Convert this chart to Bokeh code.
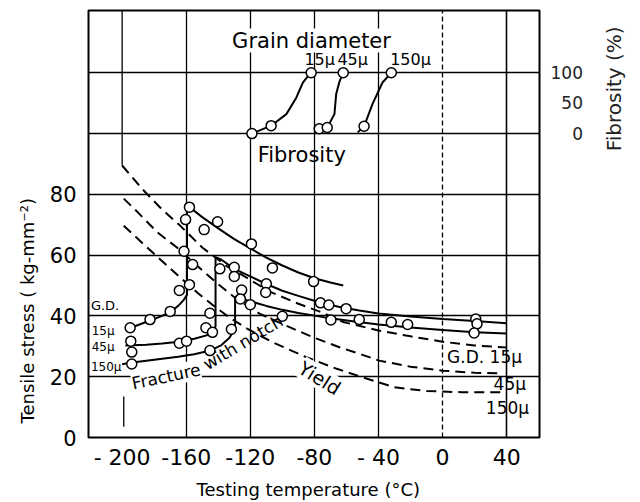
import math
from bokeh.plotting import figure
from bokeh.models import Range1d, LinearAxis, FixedTicker, Label, Grid
from bokeh.embed import file_html
from bokeh.resources import INLINE

FONT = "DejaVu Sans"

# ---------------- data ----------------
# Fibrosity (%) versus testing temperature (deg C), measured points
fib15_t = [-119, -107, -82]
fib15_f = [0, 13, 100]
fib45_t = [-77, -72, -62]
fib45_f = [8, 10, 100]
fib150_t = [-49, -32]
fib150_f = [12, 100]
# fibrosity curves drawn through the points
fib15_line_t = [-119, -107, -97.5, -91.3, -87.2, -82.4]
fib15_line_f = [0, 13, 32, 59, 84, 100]
fib45_line_t = [-79, -72, -67.5, -66.4, -64.3, -62]
fib45_line_f = [3, 10, 32, 65, 86, 100]
fib150_line_t = [-53, -49, -43.7, -37.5, -32]
fib150_line_f = [2, 12, 49, 84, 100]

# Fracture stress with notch (kg/mm^2), measured points
gd15_t = [-195, -182.6, -170, -164.3, -158, -161.4, -160.4, -158, -148.8, -140.4, -119.3, -106.2, -80.5]
gd15_s = [36.1, 38.8, 41.5, 48.4, 50.3, 61.3, 71.7, 75.8, 68.4, 71.0, 63.7, 55.8, 51.3]
gd45_t = [-194.6, -164.3, -159.8, -147.7, -143.6, -145.2, -156, -139, -130, -130, -110, -110.4, -76.2, -71, -60.2, 20.7, 21.5]
gd45_s = [31.7, 31.0, 31.7, 36.1, 34.6, 40.9, 56.9, 55.5, 56.0, 53.0, 50.6, 47.7, 44.3, 43.6, 42.4, 39.0, 37.4]
gd150_t = [-194, -194, -145.2, -131.8, -125.4, -126.2, -120, -100, -69.7, -52, -32, -21.8, 19.7]
gd150_s = [28.1, 24.2, 28.6, 35.6, 48.5, 45.6, 43.7, 39.9, 38.7, 38.8, 37.9, 37.2, 34.4]

# Fracture curves (solid)
gd15_line_t = [-198, -190, -182.6, -175, -170, -165, -161.5, -159.5, -159.5, -158, -150, -140, -130, -120, -110, -100, -90, -80, -70, -62]
gd15_line_s = [35.6, 37.0, 38.5, 40.0, 41.3, 43.3, 45.3, 47.0, 74.5, 75.8, 72.5, 68.8, 65.3, 62.2, 59.2, 56.6, 54.3, 52.4, 51.0, 50.0]
gd45_line_t = [-198, -185, -175, -166, -155, -147.3, -143.5, -141.7, -141.7, -138, -130, -120, -110, -100, -90, -77, -65, -52, -40, -20, 0, 20, 40]
gd45_line_s = [30.3, 30.5, 30.9, 31.4, 32.5, 33.6, 35.0, 36.5, 59.3, 58.5, 55.5, 53.0, 50.5, 48.3, 46.6, 44.5, 43.0, 41.8, 40.8, 39.8, 39.0, 38.3, 37.6]
gd150_line_t = [-200, -195, -180, -165, -155, -145, -138, -133, -130.5, -129.5, -129.5, -125, -120, -110, -100, -90, -80, -70, -55, -40, -20, 0, 20, 40]
gd150_line_s = [24.1, 24.6, 25.6, 26.6, 27.4, 28.6, 30.4, 32.8, 35.0, 37.0, 46.3, 45.7, 44.8, 43.3, 42.0, 41.0, 40.1, 39.2, 38.2, 37.2, 36.2, 35.4, 34.6, 34.2]

# Yield stress curves (dashed)
yield15_t = [-200, -187, -175, -164, -150, -135, -122, -108, -90, -77, -62, -40, -20, 0, 20, 40]
yield15_s = [89.5, 81.5, 75.0, 69.8, 62.5, 56.5, 52.5, 48.0, 44.0, 41.5, 38.0, 35.2, 33.3, 31.5, 30.3, 29.6]
yield45_t = [-199, -191, -178, -166, -150, -139, -128.6, -114, -95.5, -80, -64.4, -50, -39.5, -20, 0, 20, 35]
yield45_s = [78.6, 74.5, 67.5, 62.6, 55.0, 50.0, 45.6, 40.7, 36.3, 32.8, 29.7, 27.2, 25.3, 23.3, 22.0, 21.3, 21.1]
yield150_t = [-199, -187, -176, -164, -153, -142, -133, -122, -106, -85, -66, -50, -30, -10, 12, 40]
yield150_s = [69.7, 63.8, 58.5, 52.8, 47.6, 43.0, 39.5, 35.8, 31.3, 26.4, 22.6, 19.8, 16.5, 15.3, 14.9, 14.9]

# Tick values and labels
stress_ticks = [0, 20, 40, 60, 80]
temp_ticks = [-200, -160, -120, -80, -40, 0, 40]
temp_tick_labels = ["- 200", "-160", "-120", "-80", "- 40", "0", "40"]
fib_ticks = [0, 50, 100]
fib_tick_labels = ["\u2007\u20070", "\u200750", "100"]
vgrid_solid = [-160, -120, -80, -40]
vgrid_dashed = [0]
vgrid_right = [40]
hgrid = [20, 40, 60, 80, 100, 120]
# -200 deg C reference line pieces
ref200_top_t = [-200, -200]
ref200_top_s = [89.5, 140.5]
ref200_low_t = [-199, -199]
ref200_low_s = [3.5, 13.5]

# ---------------- figure ----------------
p = figure(width=640, height=502, x_range=Range1d(-221, 60.5), y_range=Range1d(0, 140.5),
           output_backend="svg", toolbar_location=None,
           min_border_left=88, min_border_right=100, min_border_top=10, min_border_bottom=65)
p.title.visible = False
p.background_fill_color = "white"
p.border_fill_color = "white"
p.outline_line_color = "black"
p.outline_line_width = 2

# fibrosity scale: 0 % at stress 100, 100 % at stress 120
p.extra_y_ranges = {"fib": Range1d(-500, 202.5)}

def style_axis(ax, size):
    ax.axis_line_color = None
    ax.major_tick_line_color = None
    ax.minor_tick_line_color = None
    ax.major_label_text_font = FONT
    ax.major_label_text_font_size = size
    ax.major_label_text_color = "black"
    ax.axis_label_text_font = FONT
    ax.axis_label_text_font_style = "normal"
    ax.axis_label_text_color = "black"

EM = "\u2003"

yax = p.yaxis[0]
style_axis(yax, "21px")
yax.ticker = FixedTicker(ticks=stress_ticks)
yax.major_label_standoff = 6
yax.axis_label = "Tensile  stress  ( kg-mm\u207b\u00b2)" + EM * 9
yax.axis_label_text_font_size = "18px"
yax.axis_label_standoff = 9

xax = p.xaxis[0]
style_axis(xax, "22px")
xax.ticker = FixedTicker(ticks=temp_ticks)
xax.major_label_overrides = {t: s for t, s in zip(temp_ticks, temp_tick_labels)}
xax.major_label_standoff = 1
xax.axis_label = "Testing  temperature  (\u00b0C)"
xax.axis_label_text_font_size = "18px"
xax.axis_label_standoff = 6

rax = LinearAxis(y_range_name="fib", ticker=FixedTicker(ticks=fib_ticks))
style_axis(rax, "17px")
rax.major_label_text_color = "#222222"
rax.major_label_overrides = {t: s for t, s in zip(fib_ticks, fib_tick_labels)}
rax.major_label_standoff = 5
rax.axis_label = EM * 3 + "\u2007" + "Fibrosity  (%)"
rax.axis_label_text_font_size = "20px"
rax.axis_label_text_color = "#222222"
rax.axis_label_standoff = 28
rax.axis_label_orientation = math.pi / 2
p.add_layout(rax, "right")

GRID = dict(grid_line_color="black", grid_line_width=1.3, grid_line_alpha=1.0)
p.xgrid.ticker = FixedTicker(ticks=vgrid_solid)
p.ygrid.ticker = FixedTicker(ticks=hgrid)
for g in (p.xgrid[0], p.ygrid[0]):
    g.update(**GRID)
p.add_layout(Grid(dimension=0, ticker=FixedTicker(ticks=vgrid_dashed), grid_line_dash="5 3", **GRID))
# the +40 deg line is interrupted by the right-hand labels
p.add_layout(Grid(dimension=0, ticker=FixedTicker(ticks=vgrid_right), bounds=(29.6, 140.5), **GRID))
p.add_layout(Grid(dimension=0, ticker=FixedTicker(ticks=vgrid_right), bounds=(0, 6.5), **GRID))

p.line(ref200_top_t, ref200_top_s, line_color="black", line_width=1.3)
p.line(ref200_low_t, ref200_low_s, line_color="black", line_width=1.3)

# yield curves
for t, s in ((yield15_t, yield15_s), (yield45_t, yield45_s), (yield150_t, yield150_s)):
    p.line(t, s, line_color="black", line_width=2, line_dash="10 6")

# fracture curves
for t, s in ((gd15_line_t, gd15_line_s), (gd45_line_t, gd45_line_s), (gd150_line_t, gd150_line_s)):
    p.line(t, s, line_color="black", line_width=2)

# fibrosity curves
for t, f in ((fib15_line_t, fib15_line_f), (fib45_line_t, fib45_line_f), (fib150_line_t, fib150_line_f)):
    p.line(t, f, line_color="black", line_width=2, y_range_name="fib")

# markers
for t, s in ((gd15_t, gd15_s), (gd45_t, gd45_s), (gd150_t, gd150_s)):
    p.scatter(t, s, size=10, marker="circle", fill_color="white", line_color="black", line_width=1.5)
for t, f in ((fib15_t, fib15_f), (fib45_t, fib45_f), (fib150_t, fib150_f)):
    p.scatter(t, f, size=10, marker="circle", fill_color="white", line_color="black", line_width=1.5,
              y_range_name="fib")

def lab(x, y, text, size, angle=0.0, align="center", bg=None, color="black"):
    kw = {}
    if bg:
        kw = dict(background_fill_color=bg, background_fill_alpha=1.0)
    p.add_layout(Label(x=x, y=y, text=text, text_font=FONT, text_font_size=size,
                       text_align=align, text_baseline="middle", angle=angle,
                       text_color=color, **kw))

lab(-81.8, 130.6, "Grain diameter", "21px", bg="white")
lab(-76.7, 124.4, "15\u03bc", "16px")
lab(-56.1, 124.4, "45\u03bc", "16px")
lab(-20.0, 124.4, "150\u03bc", "16px")
lab(-87.9, 93.1, "Fibrosity", "21px")

lab(-219.5, 43.4, "G.D.", "13px", align="left")
lab(-219.0, 35.2, "15\u03bc", "12px", align="left")
lab(-219.0, 29.7, "45\u03bc", "12px", align="left")
lab(-219.5, 23.1, "150\u03bc", "12px", align="left")

lab(49.6, 26.4, "G.D. 15\u03bc", "17px", align="right")
lab(52.1, 17.6, "45\u03bc", "17px", align="right")
lab(54.0, 9.8, "150\u03bc", "17px", align="right")

lab(-172.5, 20.1, "Fracture", "17px", angle=math.radians(12), bg="white")
lab(-124.6, 31.3, "with notch", "17px", angle=math.radians(31))
lab(-76.7, 19.6, "Yield", "19px", angle=math.radians(-32), bg="white")

open("out.html", "w").write(file_html(p, INLINE))
